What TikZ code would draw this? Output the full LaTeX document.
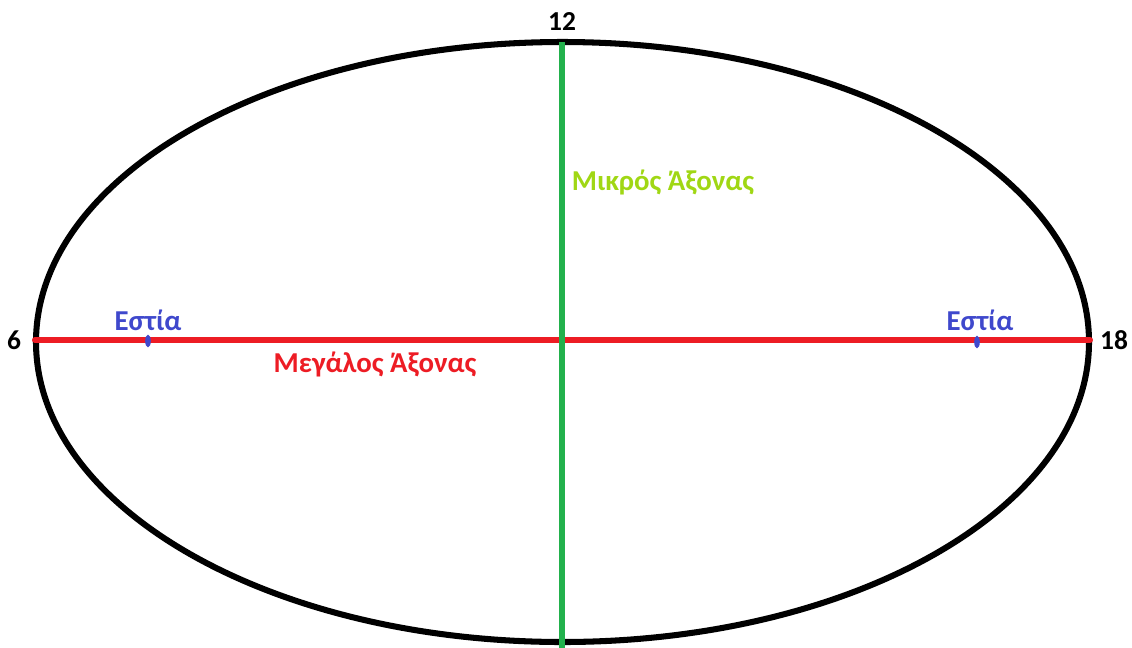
\documentclass[tikz,border=0pt]{standalone}
\usepackage{fontspec}
\setmainfont{Carlito}
\usepackage{xcolor}
\usetikzlibrary{positioning,calc,shapes.geometric}

\definecolor{axisred}{RGB}{237,28,36}
\definecolor{axisgreen}{RGB}{34,177,76}
\definecolor{labelgreen}{RGB}{160,215,20}
\definecolor{focusblue}{RGB}{63,72,204}

\begin{document}
\begin{tikzpicture}[
    x=0.025cm, y=-0.025cm,
    label/.style={font=\fontsize{20.5}{22}\selectfont\bfseries, inner sep=0pt},
    hour/.style={label, font=\fontsize{19.5}{21}\selectfont\bfseries, text=black},
    orbit/.style={draw=black, line width=4.3pt},
    major/.style={draw=axisred, line width=4.3pt, line cap=round},
    minor/.style={draw=axisgreen, line width=4.8pt},
    focus/.style={ellipse, fill=focusblue, minimum width=4pt, minimum height=9pt, inner sep=0pt}
]
\useasboundingbox (0,0) rectangle (1132,647);

% --- ORBIT ---
\coordinate (centre) at (562.5,342);
\draw [orbit] (centre) ellipse [x radius=526.5, y radius=300];

% --- AXES ---
\coordinate (west)  at (35,340);
\coordinate (east)  at (1090,340);
\coordinate (north) at (562,42);
\coordinate (south) at (562,650);
\draw [major] (west) -- (east);
\draw [minor] (north) -- (south);

% --- FOCI ---
\node (focusL) [focus] at (148,341) {};
\node (focusR) [focus] at (977,342) {};
\node (estiaL) [label, text=focusblue] at (148,320) {Εστία};
\node (estiaR) [label, text=focusblue] at (980,320) {Εστία};

% --- AXIS NAMES ---
\node (minorname) [label, text=labelgreen] at (663,182) {Μικρός Άξονας};
\node (majorname) [label, text=axisred]    at (375,364) {Μεγάλος Άξονας};

% --- HOURS ---
\node (h12) [hour] at (562,22)   {12};
\node (h6)  [hour] at (14,340)   {6};
\node (h18) [hour] at (1114,340) {18};

\end{tikzpicture}
\end{document}
